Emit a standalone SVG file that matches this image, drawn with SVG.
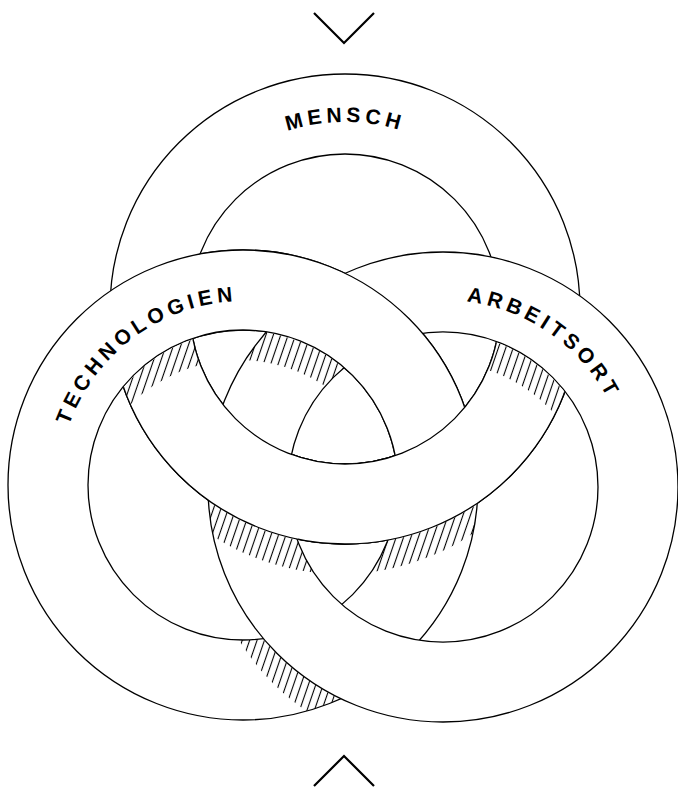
<svg xmlns="http://www.w3.org/2000/svg" width="678" height="787" viewBox="0 0 678 787">
<style>
.ring{fill:#fff;fill-rule:evenodd;stroke:#000;stroke-width:1.3}
.lbl{font-family:"Liberation Sans",Arial,Helvetica,sans-serif;font-weight:bold;font-size:21px;letter-spacing:4.4px;fill:#000}
.chev{fill:none;stroke:#000;stroke-width:2.2}
</style>
<defs>
<path id="ringM" d="M110,309A235,235 0 1 0 580,309A235,235 0 1 0 110,309Z M190,309A155,155 0 1 0 500,309A155,155 0 1 0 190,309Z"/>
<path id="ringT" d="M8,485A235,235 0 1 0 478,485A235,235 0 1 0 8,485Z M88,485A155,155 0 1 0 398,485A155,155 0 1 0 88,485Z"/>
<path id="ringA" d="M208,487A235,235 0 1 0 678,487A235,235 0 1 0 208,487Z M288,487A155,155 0 1 0 598,487A155,155 0 1 0 288,487Z"/>
<clipPath id="holeM"><circle cx="345" cy="309" r="154.2"/></clipPath>
<clipPath id="holeT"><circle cx="243" cy="485" r="154.2"/></clipPath>
<clipPath id="holeA"><circle cx="443" cy="487" r="154.2"/></clipPath>
<clipPath id="bandM"><path clip-rule="evenodd" d="M110,309A235,235 0 1 0 580,309A235,235 0 1 0 110,309Z M190,309A155,155 0 1 0 500,309A155,155 0 1 0 190,309Z"/></clipPath>
<clipPath id="bandT"><path clip-rule="evenodd" d="M8,485A235,235 0 1 0 478,485A235,235 0 1 0 8,485Z M88,485A155,155 0 1 0 398,485A155,155 0 1 0 88,485Z"/></clipPath>
<clipPath id="bandA"><path clip-rule="evenodd" d="M208,487A235,235 0 1 0 678,487A235,235 0 1 0 208,487Z M288,487A155,155 0 1 0 598,487A155,155 0 1 0 288,487Z"/></clipPath>
<mask id="shT" maskUnits="userSpaceOnUse" x="0" y="0" width="678" height="787"><circle cx="243" cy="485" r="154.3" fill="#fff"/><circle cx="239" cy="515" r="155" fill="#000"/></mask>
<mask id="shA" maskUnits="userSpaceOnUse" x="0" y="0" width="678" height="787"><circle cx="443" cy="487" r="154.3" fill="#fff"/><circle cx="439" cy="517" r="155" fill="#000"/></mask>
<mask id="shAo" maskUnits="userSpaceOnUse" x="0" y="0" width="678" height="787"><circle cx="439" cy="517" r="235" fill="#fff"/><circle cx="443" cy="487" r="235.6" fill="#000"/></mask>
<mask id="shMo" maskUnits="userSpaceOnUse" x="0" y="0" width="678" height="787"><circle cx="341" cy="339" r="235" fill="#fff"/><circle cx="345" cy="309" r="235.6" fill="#000"/></mask>
<pattern id="hatch" patternUnits="userSpaceOnUse" width="7" height="12" patternTransform="rotate(19)"><line x1="3.5" y1="-1" x2="3.5" y2="13" stroke="#000" stroke-width="1.1"/></pattern>
<path id="tpM" d="M158,309A187,187 0 0 1 532,309"/>
<path id="tpT" d="M92.7,596.2A187,187 0 0 1 393.3,373.8"/>
<path id="tpA" d="M289.6,380A187,187 0 0 1 596.4,594"/>
</defs>

<g id="mensch"><use href="#ringM" class="ring"/></g>
<g id="technologien"><use href="#ringT" class="ring"/></g>
<g id="arbeitsort"><use href="#ringA" class="ring"/></g>

<g id="interlace">
<use href="#ringT" class="ring" clip-path="url(#holeM)"/>
<use href="#ringM" class="ring" clip-path="url(#holeT)"/>
<use href="#ringM" class="ring" clip-path="url(#holeA)"/>
</g>

<g id="shadows">
<g clip-path="url(#bandM)"><g mask="url(#shT)"><rect x="100" y="320" width="130" height="120" fill="url(#hatch)"/></g></g>
<g clip-path="url(#bandA)"><g mask="url(#shT)"><rect x="240" y="320" width="120" height="80" fill="url(#hatch)"/></g></g>
<g clip-path="url(#bandM)"><g mask="url(#shA)"><rect x="470" y="320" width="150" height="110" fill="url(#hatch)"/></g></g>
<g clip-path="url(#bandT)"><g mask="url(#shAo)"><rect x="200" y="600" width="150" height="130" fill="url(#hatch)"/></g></g>
<g clip-path="url(#bandA)"><g mask="url(#shMo)"><rect x="190" y="480" width="155" height="120" fill="url(#hatch)"/></g></g>
<g clip-path="url(#bandT)"><g mask="url(#shMo)"><rect x="345" y="480" width="155" height="120" fill="url(#hatch)"/></g></g>
</g>

<g id="labels">
<text class="lbl" text-anchor="middle"><textPath href="#tpM" startOffset="50%">MENSCH</textPath></text>
<text class="lbl" text-anchor="middle"><textPath href="#tpT" startOffset="50%">TECHNOLOGIEN</textPath></text>
<text class="lbl" text-anchor="middle"><textPath href="#tpA" startOffset="50%">ARBEITSORT</textPath></text>
</g>

<g id="chevrons">
<polyline class="chev" points="314,13 344,43 374,13"/>
<polyline class="chev" points="314,786 344,756 374,786"/>
</g>
</svg>
